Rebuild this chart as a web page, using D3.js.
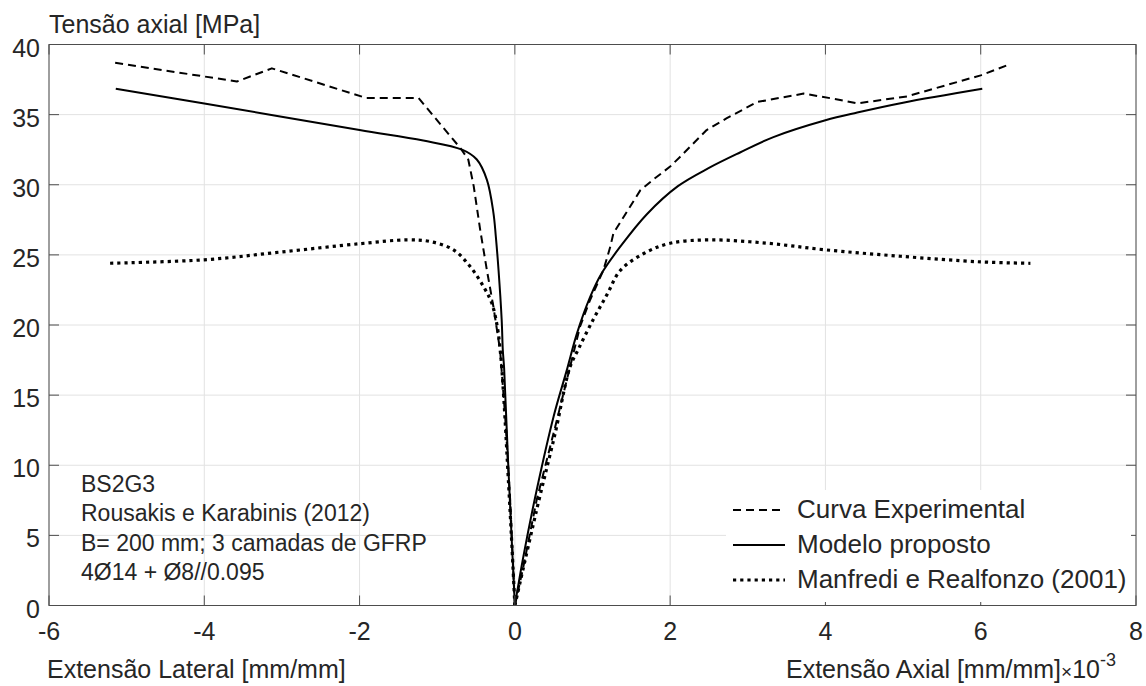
<!DOCTYPE html>
<html>
<head>
<meta charset="utf-8">
<script src="https://cdn.jsdelivr.net/npm/d3@7/dist/d3.min.js"></script>
<style>
  html, body { margin: 0; padding: 0; background: #fff; }
  svg { display: block; }
  text { font-family: "Liberation Sans", Arial, Helvetica, sans-serif; fill: #262626; }
</style>
</head>
<body>
<svg id="chart" width="1146" height="686"></svg>
<script>
// ---------- data (strain in mm/mm x10^-3, stress in MPa) ----------
const xTicks = [-6, -4, -2, 0, 2, 4, 6, 8];
const yTicks = [0, 5, 10, 15, 20, 25, 30, 35, 40];

// Curva Experimental
const expLateral = [[0,0],[-0.06,7.5],[-0.125,13.5],[-0.19,18.2],[-0.276,21.3],[-0.36,23.9],[-0.447,26.8],[-0.53,29.9],[-0.60,31.8],[-0.70,32.6],[-1.24,36.18],[-1.91,36.18],[-3.13,38.3],[-3.58,37.36],[-5.15,38.7]];
const expAxial = [[0,0],[0.11,2.77],[0.28,7.5],[0.52,12.75],[0.71,17.0],[0.84,19.9],[0.97,21.8],[1.14,23.9],[1.23,25.6],[1.27,26.55],[1.615,29.6],[1.79,30.4],[2.0,31.3],[2.13,32.0],[2.47,33.9],[2.73,34.75],[3.12,35.9],[3.72,36.5],[4.19,36.05],[4.41,35.8],[5.05,36.3],[6.0,37.8],[6.38,38.6]];

// Modelo proposto
const modelLateral = [[0,0],[-0.085,10],[-0.138,16.9],[-0.155,18.2],[-0.17,20.4],[-0.21,23.9],[-0.245,26.3],[-0.276,28.0],[-0.36,30.35],[-0.49,31.8],[-0.68,32.5],[-1.18,33.15],[-2.0,33.9],[-4.0,35.8],[-5.14,36.84]];
const modelAxial = [[0,0],[0.11,3.5],[0.28,8.2],[0.50,13.5],[0.67,16.8],[0.80,19.4],[0.97,22.0],[1.12,23.7],[1.36,25.6],[1.70,27.9],[2.1,29.9],[2.5,31.2],[2.9,32.3],[3.33,33.4],[4.0,34.6],[4.41,35.15],[5.0,35.85],[6.02,36.84]];

// Manfredi e Realfonzo (2001)
const manfLateral = [[0,0],[-0.045,5],[-0.094,10],[-0.145,15],[-0.185,18],[-0.23,20],[-0.30,21.6],[-0.40,22.7],[-0.576,24.17],[-0.79,25.36],[-1.09,25.95],[-1.39,26.07],[-1.99,25.8],[-3.02,25.2],[-4.0,24.65],[-5.25,24.4]];
const manfAxial = [[0,0],[0.28,6.8],[0.52,12.3],[0.71,17.0],[0.82,18.3],[1.01,20.4],[1.19,22.2],[1.36,23.9],[1.66,25.1],[2.0,25.83],[2.52,26.07],[3.25,25.83],[4.0,25.36],[4.97,24.9],[6.0,24.5],[6.64,24.4]];

const seriesNames = ["Curva Experimental", "Modelo proposto", "Manfredi e Realfonzo (2001)"];
const annotationLines = ["BS2G3", "Rousakis e Karabinis (2012)", "B= 200 mm; 3 camadas de GFRP", "4Ø14 + Ø8//0.095"];

// ---------- layout ----------
const svg = d3.select("#chart");
const L = 49, R = 1136, T = 44.5, B = 605.5;
const x = d3.scaleLinear().domain([-6, 8]).range([L, R]);
const y = d3.scaleLinear().domain([0, 40]).range([B, T]);

const styles = [
  { dash: "8,5", width: 2, curve: d3.curveLinear },
  { dash: null, width: 2, curve: d3.curveCatmullRom.alpha(0.5) },
  { dash: "3.2,4", width: 3.2, curve: d3.curveCatmullRom.alpha(0.5) }
];

// grid
const grid = svg.append("g");
grid.selectAll("line.gx").data(xTicks).enter().append("line")
  .attr("x1", d => x(d)).attr("x2", d => x(d)).attr("y1", T).attr("y2", B)
  .attr("stroke", "#e2e2e2").attr("stroke-width", 1);
grid.selectAll("line.gy").data(yTicks).enter().append("line")
  .attr("x1", L).attr("x2", R).attr("y1", d => y(d)).attr("y2", d => y(d))
  .attr("stroke", "#e2e2e2").attr("stroke-width", 1);

// curves
const line = d3.line().x(d => x(d[0])).y(d => y(d[1]));
const curves = [
  [expLateral, expAxial],
  [modelLateral, modelAxial],
  [manfLateral, manfAxial]
];
const plot = svg.append("g");
curves.forEach((pair, i) => {
  pair.forEach(data => {
    plot.append("path")
      .attr("d", line.curve(styles[i].curve)(data))
      .attr("fill", "none")
      .attr("stroke", "#000")
      .attr("stroke-width", styles[i].width)
      .attr("stroke-dasharray", styles[i].dash)
      .attr("stroke-linejoin", "round");
  });
});

// axes (box with inward ticks on all sides)
const tickLen = 10;
const axCol = "#4d4d4d";
const axG = svg.append("g");
axG.append("rect").attr("x", L).attr("y", T).attr("width", R - L).attr("height", B - T)
  .attr("fill", "none").attr("stroke", axCol).attr("stroke-width", 1);
xTicks.forEach(t => {
  axG.append("line").attr("x1", x(t)).attr("x2", x(t)).attr("y1", B).attr("y2", B - tickLen).attr("stroke", axCol);
  axG.append("line").attr("x1", x(t)).attr("x2", x(t)).attr("y1", T).attr("y2", T + tickLen).attr("stroke", axCol);
});
yTicks.forEach(t => {
  axG.append("line").attr("x1", L).attr("x2", L + tickLen).attr("y1", y(t)).attr("y2", y(t)).attr("stroke", axCol);
  axG.append("line").attr("x1", R).attr("x2", R - tickLen).attr("y1", y(t)).attr("y2", y(t)).attr("stroke", axCol);
});

// tick labels
svg.append("g").selectAll("text").data(xTicks).enter().append("text")
  .attr("x", d => x(d)).attr("y", 640).attr("text-anchor", "middle")
  .attr("font-size", 25).text(d => d);
svg.append("g").selectAll("text").data(yTicks).enter().append("text")
  .attr("x", 40).attr("y", d => y(d) + 12).attr("text-anchor", "end")
  .attr("font-size", 25).text(d => d);

// axis titles
svg.append("text").attr("x", 49).attr("y", 33).attr("font-size", 25).text("Tensão axial [MPa]");
svg.append("text").attr("x", 47).attr("y", 678).attr("font-size", 25).text("Extensão Lateral [mm/mm]");
const ax = svg.append("text").attr("x", 1116).attr("y", 678).attr("text-anchor", "end").attr("font-size", 25);
ax.append("tspan").text("Extensão Axial [mm/mm]");
ax.append("tspan").attr("font-size", 19).text("×");
ax.append("tspan").text("10");
ax.append("tspan").attr("font-size", 18).attr("dy", -12).text("-3");

// annotation
svg.append("g").selectAll("text").data(annotationLines).enter().append("text")
  .attr("x", 81).attr("y", (d, i) => 492 + i * 29.3)
  .attr("font-size", 23).text(d => d);

// legend
const lg = svg.append("g");
lg.append("rect").attr("x", 726).attr("y", 490).attr("width", 405).attr("height", 112).attr("fill", "#fff");
seriesNames.forEach((name, i) => {
  const by = 518 + i * 35;
  lg.append("line").attr("x1", 733).attr("x2", 785).attr("y1", by - 8).attr("y2", by - 8)
    .attr("stroke", "#000").attr("stroke-width", styles[i].width)
    .attr("stroke-dasharray", styles[i].dash);
  lg.append("text").attr("x", 797).attr("y", by).attr("font-size", 26).text(name);
});
</script>
</body>
</html>
